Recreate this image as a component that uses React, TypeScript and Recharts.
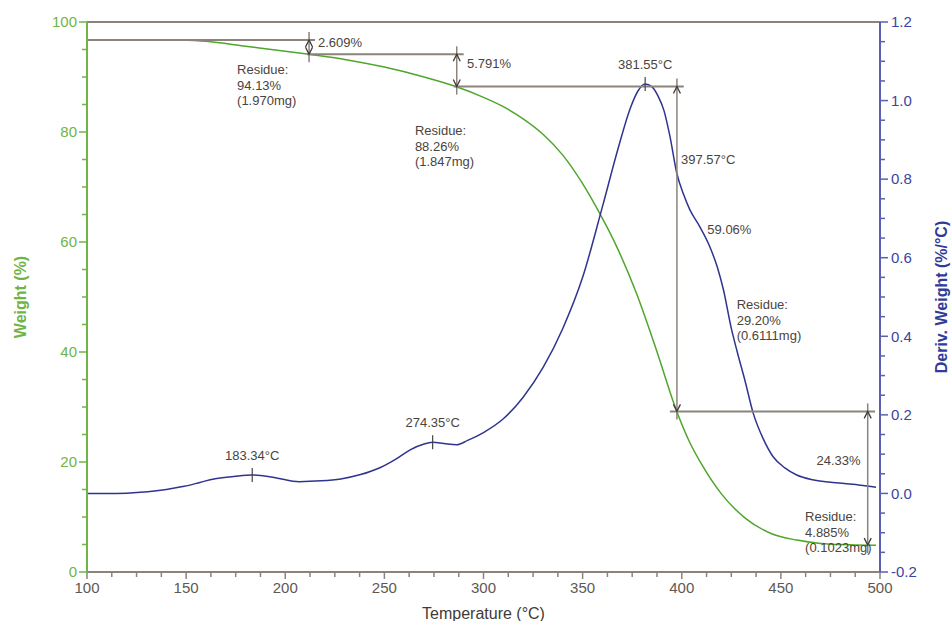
import React from "react";
import {
  ComposedChart,
  Label,
  Line,
  ReferenceDot,
  ReferenceLine,
  XAxis,
  YAxis,
} from "recharts";

// TGA weight curve (green, left axis)
const weightTemps = [
  146, 160, 180, 200, 212, 230, 250, 270, 286, 300, 310, 320, 330, 340, 350,
  358, 367, 377, 387, 397.5, 404, 410, 420, 432, 445, 458, 470, 485, 498,
];
const weightValues = [
  96.74, 96.5, 95.6, 94.7, 94.13, 93.2, 91.8, 90.0, 88.26, 86.3, 84.6, 82.4,
  79.6, 75.8, 70.6, 65.6, 59.3, 50.8, 40.6, 29.2, 23.6, 19.6, 14.2, 9.8, 7.0,
  5.8, 5.2, 4.95, 4.85,
];

// derivative weight curve (blue, right axis)
const derivTemps = [
  100, 115, 127, 140, 149, 157, 164, 174, 183.3, 195, 207, 218, 228, 238, 248,
  256, 263, 270, 274.4, 280, 286.5, 292, 300, 310, 320, 330, 340, 350, 360,
  368, 374, 378, 381.5, 385, 388, 391, 394, 397.5, 401, 404, 409, 414, 418,
  421, 425, 428, 432, 436, 441, 446, 452, 458, 466, 474, 482, 490, 498,
];
const derivValues = [
  0.0, 0.0, 0.003, 0.01, 0.018, 0.028, 0.037, 0.043, 0.047, 0.04, 0.03, 0.032,
  0.037, 0.048, 0.066, 0.088, 0.111, 0.126, 0.13, 0.127, 0.124, 0.135, 0.155,
  0.19, 0.245, 0.32, 0.42, 0.55, 0.73, 0.88, 0.98, 1.025, 1.042, 1.035,
  1.012, 0.975, 0.91, 0.815, 0.76, 0.723, 0.68, 0.63, 0.575, 0.519, 0.42,
  0.36, 0.285, 0.205, 0.14, 0.094, 0.065, 0.047, 0.035, 0.029, 0.025, 0.021,
  0.016,
];

const tempTicks = [100, 150, 200, 250, 300, 350, 400, 450, 500];
const weightTicks = [0, 20, 40, 60, 80, 100];
const derivTicks = [-0.2, 0, 0.2, 0.4, 0.6, 0.8, 1.0, 1.2];

// residue step lines (temperature, weight)
const stepLines = [
  { from: 100, to: 215, w: 96.74 },
  { from: 211, to: 290, w: 94.13 },
  { from: 285, to: 401, w: 88.26 },
  { from: 394, to: 497.5, w: 29.2 },
];
const stepArrows = [
  { t: 212, top: 96.74, bottom: 94.13 },
  { t: 286.5, top: 94.13, bottom: 88.26 },
  { t: 397.57, top: 88.26, bottom: 29.2 },
  { t: 493.8, top: 29.2, bottom: 4.885 },
];
const notes = [
  { t: 216.5, w: 96.2, lines: ["2.609%"] },
  { t: 175.7, w: 91.3, lines: ["Residue:", "94.13%", "(1.970mg)"] },
  { t: 291.7, w: 92.5, lines: ["5.791%"] },
  { t: 265.4, w: 80.2, lines: ["Residue:", "88.26%", "(1.847mg)"] },
  { t: 399.6, w: 75.0, lines: ["397.57°C"] },
  { t: 412.9, w: 62.3, lines: ["59.06%"] },
  { t: 427.7, w: 48.6, lines: ["Residue:", "29.20%", "(0.6111mg)"] },
  { t: 468, w: 20.2, lines: ["24.33%"] },
  { t: 462.2, w: 10.1, lines: ["Residue:", "4.885%", "(0.1023mg)"] },
];
const peaks = [
  { t: 183.34, d: 0.047, label: "183.34°C" },
  { t: 274.35, d: 0.13, label: "274.35°C" },
  { t: 381.55, d: 1.042, label: "381.55°C" },
];

const FONT = "'Liberation Sans', Arial, sans-serif";
const GREEN = "#6fb446";
const GREEN_LINE = "#4fa62c";
const BLUE = "#2f348e";
const BLUE_AXIS = "#5a5fb2";
const GRAY = "#8b837c";
const TEXT = "#4a4440";

const withMinor = (major: number[]) => {
  const out: number[] = [];
  for (let i = 0; i < major.length - 1; i++) {
    const step = (major[i + 1] - major[i]) / 4;
    for (let k = 0; k < 4; k++) out.push(major[i] + k * step);
  }
  out.push(major[major.length - 1]);
  return out;
};
const isMajor = (v: number, major: number[]) =>
  major.some((m) => Math.abs(m - v) < 1e-6);

const XTick = (props: any) => {
  const { x, y, payload } = props;
  const major = isMajor(payload.value, tempTicks);
  return (
    <g>
      <line x1={x} y1={y} x2={x} y2={y + (major ? 7 : 5)} stroke={GRAY} strokeWidth={1.5} />
      {major && (
        <text x={x} y={y + 16} dy="0.35em" textAnchor="middle" fontSize={15} fill="#5f5852" fontFamily={FONT}>
          {payload.value}
        </text>
      )}
    </g>
  );
};

const WeightTick = (props: any) => {
  const { x, y, payload } = props;
  const major = isMajor(payload.value, weightTicks);
  return (
    <g>
      <line x1={x - (major ? 8 : 5)} y1={y} x2={x} y2={y} stroke={GREEN} strokeWidth={1.5} />
      {major && (
        <text x={x - 10} y={y} dy="0.35em" textAnchor="end" fontSize={15} fill={GREEN} fontFamily={FONT}>
          {payload.value}
        </text>
      )}
    </g>
  );
};

const DerivTick = (props: any) => {
  const { x, y, payload } = props;
  const major = isMajor(payload.value, derivTicks);
  const label = derivTicks.find((m) => Math.abs(m - payload.value) < 1e-6);
  return (
    <g>
      <line x1={x} y1={y} x2={x + (major ? 8 : 5)} y2={y} stroke={BLUE_AXIS} strokeWidth={1.5} />
      {major && label !== undefined && (
        <text x={x + 11} y={y} dy="0.35em" textAnchor="start" fontSize={15} fill="#3a45a0" fontFamily={FONT}>
          {label.toFixed(1)}
        </text>
      )}
    </g>
  );
};

const arrowShape = (p: any) => {
  const { x1, y1, y2 } = p;
  const top = Math.min(y1, y2);
  const bot = Math.max(y1, y2);
  const hl = 7;
  const hw = 3.5;
  return (
    <g>
      <line x1={x1} y1={top - 8} x2={x1} y2={bot + 8} stroke={GRAY} strokeWidth={1.5} />
      <polyline points={`${x1 - hw},${top + hl} ${x1},${top} ${x1 + hw},${top + hl}`} fill="none" stroke="#3f3a36" strokeWidth={1.3} />
      <polyline points={`${x1 - hw},${bot - hl} ${x1},${bot} ${x1 + hw},${bot - hl}`} fill="none" stroke="#3f3a36" strokeWidth={1.3} />
    </g>
  );
};

const noteShape = (lines: string[]) => (p: any) => (
  <text fontSize={13} fill={TEXT} fontFamily={FONT} textAnchor="start">
    {lines.map((l, i) => (
      <tspan key={i} x={p.cx} y={p.cy + i * 15.5} dy="0.35em">
        {l}
      </tspan>
    ))}
  </text>
);

const peakShape = (label: string) => (p: any) => (
  <g>
    <line x1={p.cx} y1={p.cy - 7} x2={p.cx} y2={p.cy + 7} stroke="#4a4440" strokeWidth={1.2} />
    <text x={p.cx} y={p.cy - 20} dy="0.35em" textAnchor="middle" fontSize={13} fill={TEXT} fontFamily={FONT}>
      {label}
    </text>
  </g>
);

export default function App() {
  const weightData = weightTemps.map((t, i) => ({ t, w: weightValues[i] }));
  const derivData = derivTemps.map((t, i) => ({ t, d: derivValues[i] }));

  return (
    <div style={{ position: "absolute", left: 0, top: 0, background: "#fff" }}>
      <ComposedChart width={952} height={621} margin={{ top: 22, right: 0, bottom: 0, left: 0 }}>
        <XAxis
          dataKey="t"
          type="number"
          domain={[100, 500]}
          ticks={withMinor(tempTicks)}
          interval={0}
          tickSize={0}
          tickMargin={0}
          tick={<XTick />}
          height={49}
          axisLine={{ stroke: GRAY, strokeWidth: 2 }}
          tickLine={false}
        >
          <Label
            content={(p: any) => (
              <text x={p.viewBox.x + p.viewBox.width / 2} y={p.viewBox.y + 41} dy="0.35em" textAnchor="middle" fontSize={16} fill="#3f3a36" fontFamily={FONT}>
                Temperature (°C)
              </text>
            )}
          />
        </XAxis>
        <YAxis
          yAxisId="w"
          type="number"
          domain={[0, 100]}
          ticks={withMinor(weightTicks)}
          interval={0}
          width={87}
          tickSize={0}
          tickMargin={0}
          tick={<WeightTick />}
          axisLine={{ stroke: GREEN, strokeWidth: 2 }}
          tickLine={false}
        >
          <Label
            content={(p: any) => {
              const cx = p.viewBox.x + 20;
              const cy = p.viewBox.y + p.viewBox.height / 2;
              return (
                <text x={cx} y={cy} dy="0.35em" transform={`rotate(-90, ${cx}, ${cy})`} textAnchor="middle" fontSize={16} fontWeight="bold" fill={GREEN} fontFamily={FONT}>
                  Weight (%)
                </text>
              );
            }}
          />
        </YAxis>
        <YAxis
          yAxisId="d"
          orientation="right"
          type="number"
          domain={[-0.2, 1.2]}
          ticks={withMinor(derivTicks)}
          interval={0}
          width={72}
          tickSize={0}
          tickMargin={0}
          tick={<DerivTick />}
          axisLine={{ stroke: BLUE_AXIS, strokeWidth: 2 }}
          tickLine={false}
        >
          <Label
            content={(p: any) => {
              const cx = p.viewBox.x + 61;
              const cy = p.viewBox.y + p.viewBox.height / 2;
              return (
                <text x={cx} y={cy} dy="0.35em" transform={`rotate(-90, ${cx}, ${cy})`} textAnchor="middle" fontSize={16} fontWeight="bold" fill="#2f3c98" fontFamily={FONT}>
                  Deriv. Weight (%/°C)
                </text>
              );
            }}
          />
        </YAxis>

        <ReferenceLine yAxisId="w" y={100} stroke={GRAY} strokeWidth={2} />

        <Line
          yAxisId="w"
          data={weightData}
          dataKey="w"
          type="monotone"
          stroke={GREEN_LINE}
          strokeWidth={1.5}
          dot={false}
          isAnimationActive={false}
        />
        <Line
          yAxisId="d"
          data={derivData}
          dataKey="d"
          type="monotone"
          stroke={BLUE}
          strokeWidth={1.5}
          dot={false}
          isAnimationActive={false}
        />

        {stepLines.map((s, i) => (
          <ReferenceLine
            key={`s${i}`}
            yAxisId="w"
            segment={[
              { x: s.from, y: s.w },
              { x: s.to, y: s.w },
            ]}
            stroke={GRAY}
            strokeWidth={2}
          />
        ))}
        {stepArrows.map((a, i) => (
          <ReferenceLine
            key={`a${i}`}
            yAxisId="w"
            segment={[
              { x: a.t, y: a.top },
              { x: a.t, y: a.bottom },
            ]}
            shape={arrowShape}
          />
        ))}
        {notes.map((n, i) => (
          <ReferenceDot key={`n${i}`} yAxisId="w" x={n.t} y={n.w} r={0} shape={noteShape(n.lines)} />
        ))}
        {peaks.map((pk, i) => (
          <ReferenceDot key={`p${i}`} yAxisId="d" x={pk.t} y={pk.d} r={0} shape={peakShape(pk.label)} />
        ))}
      </ComposedChart>
    </div>
  );
}
